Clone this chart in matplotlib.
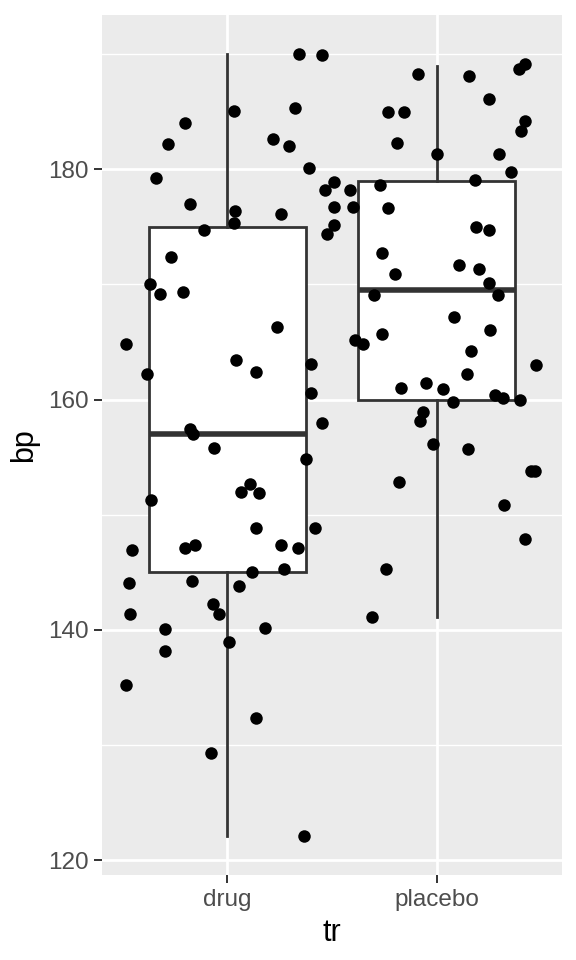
import matplotlib
matplotlib.use("Agg")
import matplotlib.pyplot as plt
import numpy as np

plt.rcParams['font.family'] = ['Liberation Sans', 'DejaVu Sans']

# groups and tick labels
groups = ["drug", "placebo"]

# box stats: whisker low, q1, median, q3, whisker high
drug_box = [122.1, 145.0, 157.0, 175.0, 190.0]
placebo_box = [141.1, 160.0, 169.5, 179.0, 189.0]

# jittered points (x on the category axis: drug = 0, placebo = 1)
drug_x = [0.343, 0.451, 0.030, 0.322, -0.201, -0.282, 0.217, 0.292, 0.388, -0.341,
          0.466, -0.177, 0.035, 0.254, 0.032, 0.477, -0.111, -0.269, -0.372, -0.324,
          -0.211, 0.238, -0.487, 0.040, 0.137, 0.400, -0.386, 0.400, 0.453, -0.177,
          -0.164, -0.064, 0.378, 0.107, 0.067, 0.152, -0.367, 0.135, 0.418, -0.455,
          -0.204, -0.156, 0.258, 0.335, 0.115, 0.269, -0.469, -0.171, 0.056, -0.466,
          -0.067, -0.040, -0.298, 0.178, 0.008, -0.297, -0.483, 0.137, -0.080, 0.364]
drug_bp = [190.0, 189.9, 185.1, 185.3, 184.0, 182.2, 182.6, 182.0, 180.1, 179.2,
           178.2, 177.0, 176.4, 176.1, 175.3, 174.4, 174.7, 172.4, 170.0, 169.2,
           169.3, 166.3, 164.8, 163.4, 162.4, 163.1, 162.2, 160.6, 158.0, 157.4,
           157.0, 155.8, 154.8, 152.7, 152.0, 151.9, 151.3, 148.8, 148.8, 146.9,
           147.1, 147.4, 147.4, 147.1, 145.0, 145.3, 144.1, 144.2, 143.8, 141.4,
           142.2, 141.4, 140.1, 140.2, 138.9, 138.2, 135.2, 132.3, 129.3, 122.1]

placebo_x = [0.912, 1.156, 1.394, 1.422, 1.252, 0.770, 0.844, 1.421, 1.403, 0.810,
             1.000, 1.297, 1.357, 0.587, 0.731, 1.185, 0.766, 0.600, 1.190, 1.250,
             0.740, 1.105, 1.202, 0.800, 1.250, 0.700, 1.293, 1.085, 0.740, 1.257,
             0.612, 0.646, 1.164, 1.477, 1.145, 0.829, 0.949, 1.030, 1.080, 1.281,
             1.319, 1.397, 0.933, 0.920, 0.984, 1.150, 1.451, 1.469, 0.822, 1.321,
             1.424, 0.759, 0.689, 0.509, 0.509, 0.509]
placebo_bp = [188.3, 188.1, 188.7, 189.1, 186.1, 185.0, 185.0, 184.2, 183.3, 182.3,
              181.3, 181.3, 179.8, 178.2, 178.6, 179.1, 176.6, 176.7, 175.0, 174.7,
              172.7, 171.7, 171.3, 170.9, 170.1, 169.1, 169.1, 167.2, 165.7, 166.0,
              165.2, 164.8, 164.2, 163.0, 162.2, 161.0, 161.4, 160.9, 159.8, 160.4,
              160.1, 160.0, 158.9, 158.1, 156.1, 155.7, 153.8, 153.8, 152.8, 150.8,
              147.9, 145.3, 141.1, 178.9, 176.7, 175.2]

y_ticks = [120, 140, 160, 180]
y_minor = [130, 150, 170, 190]

fig = plt.figure(figsize=(5.76, 9.6), dpi=100)
ax = fig.add_axes([102/576, 1 - 875/960, 460/576, 860/960])
ax.set_facecolor("#EBEBEB")
for s in ax.spines.values():
    s.set_visible(False)

# grid
ax.set_yticks(y_ticks)
ax.set_yticks(y_minor, minor=True)
ax.set_xticks([0, 1])
ax.set_xticklabels(groups)
ax.grid(which="major", color="white", linewidth=2.0)
ax.grid(which="minor", axis="y", color="white", linewidth=1.0)
ax.set_axisbelow(True)

stats = []
for name, b in zip(groups, [drug_box, placebo_box]):
    stats.append(dict(label=name, whislo=b[0], q1=b[1], med=b[2], q3=b[3], whishi=b[4], fliers=[]))

ax.bxp(stats, positions=[0, 1], widths=0.75, patch_artist=True, showcaps=False,
       boxprops=dict(facecolor="white", edgecolor="#333333", linewidth=2.0),
       whiskerprops=dict(color="#333333", linewidth=2.0),
       medianprops=dict(color="#333333", linewidth=4.0, solid_capstyle="butt"),
       manage_ticks=False, zorder=2)

ax.plot(drug_x, drug_bp, "o", color="black", markersize=9.0, markeredgewidth=0, zorder=3)
ax.plot(placebo_x, placebo_bp, "o", color="black", markersize=9.0, markeredgewidth=0, zorder=3)

all_bp = np.array(drug_bp + placebo_bp)
lo, hi = all_bp.min(), all_bp.max()
pad = 0.05 * (hi - lo)
ax.set_ylim(lo - pad, hi + pad)
ax.set_xlim(-0.6, 1.6)

ax.tick_params(axis="both", which="major", length=5.7, width=1.4, color="#333333",
               labelcolor="#4D4D4D", labelsize=17.5, pad=4.2)
ax.tick_params(axis="both", which="minor", length=0)

ax.set_xlabel("tr", fontsize=22, labelpad=5)
ax.set_ylabel("bp", fontsize=22, labelpad=6)

fig.savefig("out.png", dpi=100)
